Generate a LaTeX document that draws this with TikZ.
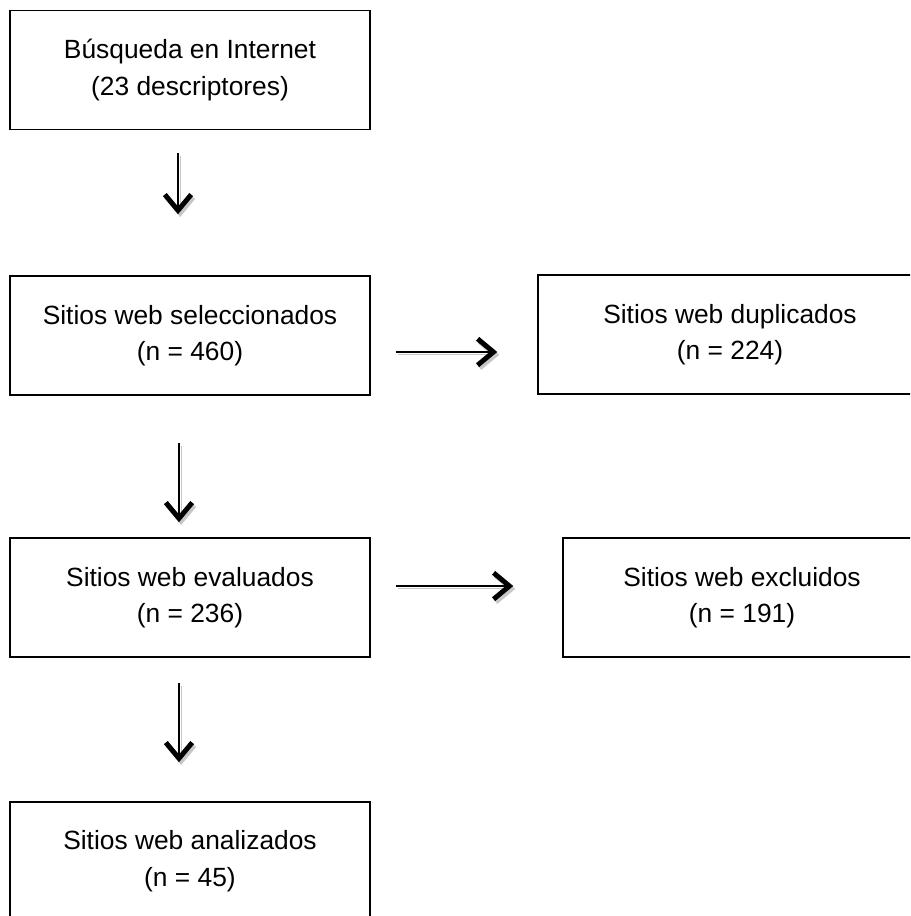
\documentclass[tikz,border=0pt]{standalone}
\usepackage{fontspec}
\setmainfont{Liberation Sans}
\usepackage{tikz}
\usetikzlibrary{arrows.meta,positioning}

\begin{document}
\begin{tikzpicture}[
    x=0.02cm, y=-0.02cm,
    stage/.style={draw, line width=0.9pt, rectangle, minimum width=7.2cm, minimum height=2.38cm,
        align=center, font=\fontsize{15pt}{20.8pt}\selectfont, inner sep=0pt},
    arrow/.style={-{Straight Barb[line width=2.8pt, length=9pt, width=15pt]}, line width=1pt,
        preaction={draw=black!22, transform canvas={shift={(1.2pt,-1.6pt)}}}}
]
    \clip (0,0) rectangle (910,916);

    \node[stage] (search) at (190,70) {Búsqueda en Internet\\(23 descriptores)};
    \node[stage] (selected) at (190,335.5) {Sitios web seleccionados\\(n = 460)};
    \node[stage, minimum width=7.68cm] (dup) at (730,334.5) {Sitios web duplicados\\(n = 224)};
    \node[stage] (evaluated) at (190,597.5) {Sitios web evaluados\\(n = 236)};
    \node[stage, minimum width=7.16cm] (excl) at (742,597.5) {Sitios web excluidos\\(n = 191)};
    \node[stage, minimum height=2.36cm] (analysed) at (190,861) {Sitios web analizados\\(n = 45)};

    \draw[arrow, shorten <=0.46cm, shorten >=1.22cm] ([xshift=-0.24cm]search.south) -- ([xshift=-0.24cm]selected.north);
    \draw[arrow, shorten <=0.94cm, shorten >=0.30cm] ([xshift=-0.22cm]selected.south) -- ([xshift=-0.22cm]evaluated.north);
    \draw[arrow, shorten <=0.50cm, shorten >=0.78cm] ([xshift=-0.22cm]evaluated.south) -- ([xshift=-0.22cm]analysed.north);

    \draw[arrow, shorten <=0.50cm, shorten >=0.80cm] ([yshift=-0.33cm]selected.east) -- ([yshift=-0.33cm]selected.east -| dup.west);
    \draw[arrow, shorten <=0.50cm, shorten >=0.98cm] ([yshift=0.23cm]evaluated.east) -- ([yshift=0.23cm]evaluated.east -| excl.west);
\end{tikzpicture}
\end{document}
